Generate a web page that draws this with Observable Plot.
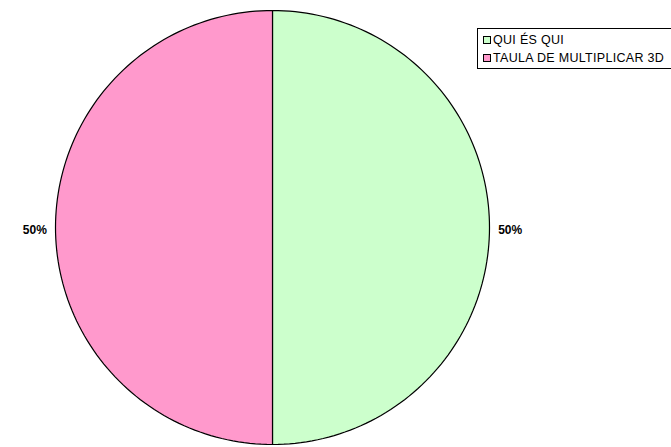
<!DOCTYPE html>
<html>
<head>
<meta charset="utf-8">
<script src="https://cdn.jsdelivr.net/npm/d3@7"></script>
<script src="https://cdn.jsdelivr.net/npm/@observablehq/plot@0.6"></script>
<style>
  html, body { margin: 0; padding: 0; background: #fff; }
  #wrap { position: relative; width: 671px; height: 447px; overflow: hidden; font-family: "Liberation Sans", Arial, sans-serif; }
  #legend { position: absolute; left: 477px; top: 28px; width: 220px; height: 41px; border: 1px solid #000; background: #fff; box-sizing: border-box; font-size: 12.5px; letter-spacing: 0.3px; color: #000; }
  .row { position: absolute; left: 5px; height: 14px; display: flex; align-items: center; white-space: nowrap; }
  .sw { width: 6px; height: 6px; border: 1px solid #000; margin-right: 2px; flex: none; }
</style>
</head>
<body>
<div id="wrap"></div>
<script>
const categories = ["QUI ÉS QUI", "TAULA DE MULTIPLICAR 3D"];
const values = [50, 50];
const colors = ["#CCFFCC", "#FF99CC"];
const percentLabels = ["50%", "50%"];

const pie = d3.pie().sort(null).value(d => d)(values);
const points = [];
pie.forEach((p, i) => {
  points.push({cat: categories[i], x: 0, y: 0});
  const n = 120;
  for (let k = 0; k <= n; k++) {
    const a = p.startAngle + (p.endAngle - p.startAngle) * k / n;
    points.push({cat: categories[i], x: Math.sin(a), y: Math.cos(a)});
  }
  points.push({cat: categories[i], x: 0, y: 0});
});
const labels = pie.map((p, i) => {
  const a = (p.startAngle + p.endAngle) / 2;
  return {text: percentLabels[i], x: 1.04 * Math.sin(a), y: 1.04 * Math.cos(a), right: Math.sin(a) >= 0};
});

const chart = Plot.plot({
  width: 671,
  height: 447,
  marginLeft: 55,
  marginRight: 182,
  marginTop: 10,
  marginBottom: 3,
  x: {domain: [-1, 1], axis: null},
  y: {domain: [-1, 1], axis: null},
  color: {domain: categories, range: colors},
  style: {fontFamily: "Liberation Sans, Arial, sans-serif", background: "#fff"},
  marks: [
    Plot.line(points, {x: "x", y: "y", z: "cat", fill: "cat", stroke: "#000", strokeWidth: 1.2, curve: "linear"}),
    Plot.text(labels.filter(d => d.right), {x: "x", y: "y", text: "text", textAnchor: "start", fontSize: 12, fontWeight: "bold", dy: 3, fill: "#000"}),
    Plot.text(labels.filter(d => !d.right), {x: "x", y: "y", text: "text", textAnchor: "end", fontSize: 12, fontWeight: "bold", dy: 3, fill: "#000"})
  ]
});

const wrap = document.getElementById("wrap");
wrap.appendChild(chart);
const legend = document.createElement("div");
legend.id = "legend";
categories.forEach((c, i) => {
  const row = document.createElement("div");
  row.className = "row";
  row.style.top = (4 + i * 18) + "px";
  const sw = document.createElement("span");
  sw.className = "sw";
  sw.style.background = colors[i];
  const t = document.createElement("span");
  t.textContent = c;
  row.appendChild(sw);
  row.appendChild(t);
  legend.appendChild(row);
});
wrap.appendChild(legend);
</script>
</body>
</html>
